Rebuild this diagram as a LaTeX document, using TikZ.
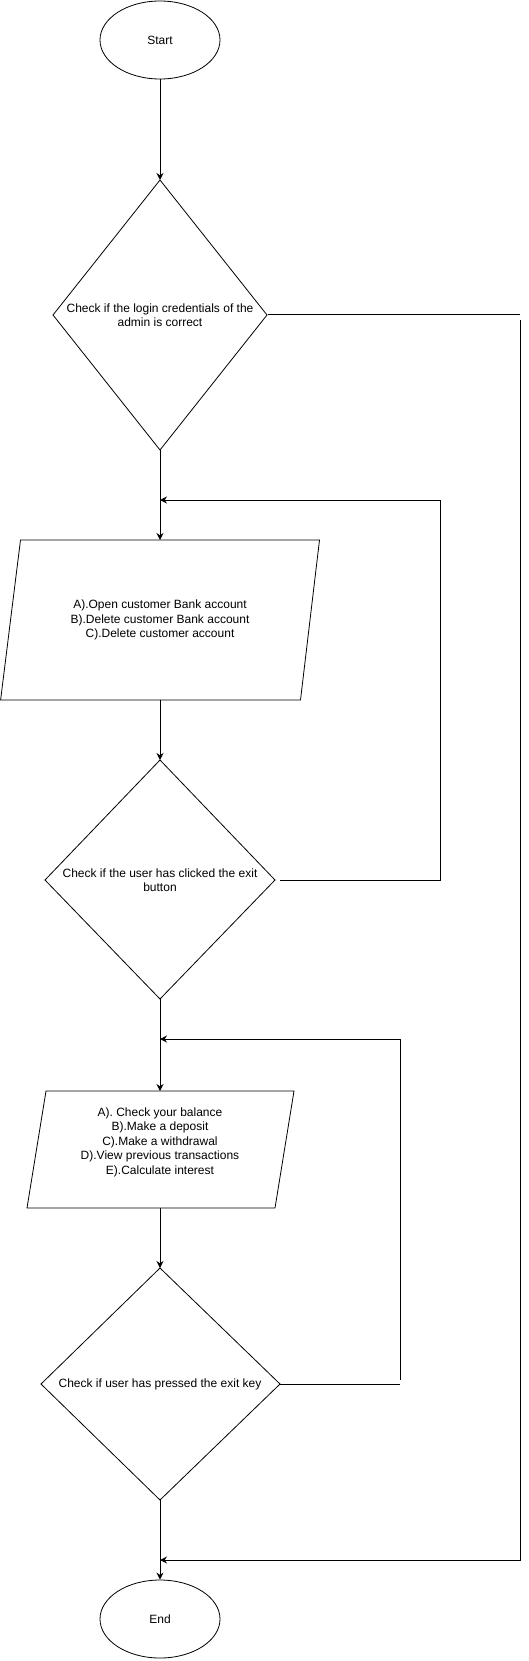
\documentclass[tikz,border=0pt]{standalone}
\usepackage{fontspec}
\setmainfont{Liberation Sans}
\usetikzlibrary{arrows.meta,shapes.geometric}
\tikzset{
  shapeline/.style={draw=black, line width=0.8pt, line join=miter},
  conn/.style={draw=black, line width=1pt},
  arr/.style={conn, -{Stealth[length=7pt,width=7pt]}},
  lbl/.style={align=center, font=\fontsize{12}{14.5}\selectfont, inner sep=0pt},
  term/.style={ellipse, shapeline, minimum width=120pt, minimum height=78pt, inner sep=0pt, font=\fontsize{12}{14.5}\selectfont}
}
\begin{document}
\begin{tikzpicture}[x=1pt,y=-1pt]
\useasboundingbox (0,0) rectangle (529,1661);
% Start
\node[term] (start) at (160,40) {Start};
% Diamond 1
\coordinate (d1t) at (160,180);
\coordinate (d1b) at (160,450);
\coordinate (d1l) at (53,315);
\coordinate (d1r) at (267,315);
\draw[shapeline] (d1t) -- (d1r) -- (d1b) -- (d1l) -- cycle;
\node[lbl] (d1) at (160,315) {Check if the login credentials of the\\admin is correct};
% Parallelogram 1
\coordinate (p1tl) at (20.5,540);
\coordinate (p1tr) at (319.5,540);
\coordinate (p1br) at (300.5,700);
\coordinate (p1bl) at (0.6,700);
\coordinate (p1t) at (160,540);
\coordinate (p1b) at (160,700);
\draw[shapeline] (p1tl) -- (p1tr) -- (p1br) -- (p1bl) -- cycle;
\node[lbl] (p1) at (160,620) {A).Open customer Bank account\\B).Delete customer Bank account\\C).Delete customer account};
% Diamond 2
\coordinate (d2t) at (160,760);
\coordinate (d2b) at (160,999);
\coordinate (d2l) at (45,880);
\coordinate (d2r) at (275,880);
\draw[shapeline] (d2t) -- (d2r) -- (d2b) -- (d2l) -- cycle;
\node[lbl] (d2) at (160,880) {Check if the user has clicked the exit\\button};
% Parallelogram 2
\coordinate (p2tl) at (46,1091);
\coordinate (p2tr) at (294,1091);
\coordinate (p2br) at (275,1208);
\coordinate (p2bl) at (27,1208);
\coordinate (p2t) at (160,1091);
\coordinate (p2b) at (160,1208);
\draw[shapeline] (p2tl) -- (p2tr) -- (p2br) -- (p2bl) -- cycle;
\node[lbl] (p2) at (160,1142) {A). Check your balance\\B).Make a deposit\\C).Make a withdrawal\\D).View previous transactions\\E).Calculate interest};
% Diamond 3
\coordinate (d3t) at (160,1268);
\coordinate (d3b) at (160,1500);
\coordinate (d3l) at (41,1384);
\coordinate (d3r) at (280,1384);
\draw[shapeline] (d3t) -- (d3r) -- (d3b) -- (d3l) -- cycle;
\node[lbl] (d3) at (160,1384) {Check if user has pressed the exit key};
% End
\node[term] (end) at (160,1619) {End};
% loop entry points
\coordinate (j1) at (160,500);
\coordinate (j2) at (160,1039);
\coordinate (j3) at (160,1560);
\coordinate (r1a) at (520,315);
\coordinate (r1b) at (520,320);
\coordinate (r2) at (440,880);
\coordinate (r3a) at (400,1384);
\coordinate (r3b) at (400,1380);
% connectors
\draw[arr] (start.south) -- (d1t);
\draw[arr] (d1b) -- (p1t);
\draw[arr] (p1b) -- (d2t);
\draw[arr] (d2b) -- (p2t);
\draw[arr] (p2b) -- (d3t);
\draw[arr] (d3b) -- (end.north);
\draw[conn] ([xshift=1pt]d1r) -- (r1a);
\draw[arr] (r1b) |- (j3);
\draw[arr] ([xshift=5pt]d2r) -- (r2) |- (j1);
\draw[conn] (d3r) -- (r3a);
\draw[arr] (r3b) |- (j2);
\end{tikzpicture}
\end{document}
